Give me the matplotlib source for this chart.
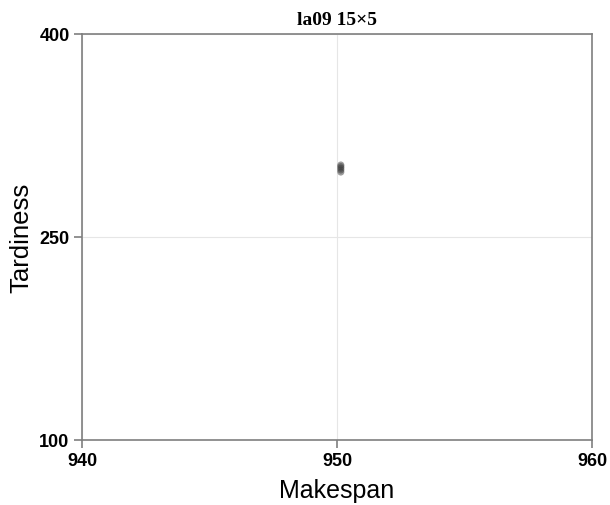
import matplotlib

matplotlib.use("Agg")
import matplotlib.pyplot as plt

# solutions found (makespan, tardiness)
makespan = [950.15, 950.15, 950.15, 950.15, 950.15]
tardiness = [298.0, 299.5, 300.8, 302.0, 303.2]

x_ticks = [940, 950, 960]
y_ticks = [100, 250, 400]

fig = plt.figure(figsize=(6.1, 5.06), dpi=100)
ax = fig.add_axes([82 / 610, 1 - 441 / 506, 510 / 610, 406 / 506])

ax.scatter(makespan, tardiness, s=26, color="#3c3c3c", alpha=0.5, edgecolors="none", zorder=3)

ax.set_xlim(940, 960)
ax.set_ylim(100, 400)
ax.set_xticks(x_ticks)
ax.set_yticks(y_ticks)
ax.grid(True, color="#e6e6e6", linewidth=0.8)
ax.set_axisbelow(True)

for spine in ax.spines.values():
    spine.set_color("#7f7f7f")
    spine.set_linewidth(1.2)
ax.tick_params(direction="out", length=6, width=1.2, color="#7f7f7f", labelsize=13, pad=3)
for lbl in ax.get_xticklabels() + ax.get_yticklabels():
    lbl.set_fontweight("bold")
    lbl.set_family("Liberation Sans")

ax.set_title("la09 15×5", fontsize=14, fontweight="bold", family="Liberation Serif", pad=7)
ax.set_xlabel("Makespan", fontsize=18, family="Liberation Sans", labelpad=6)
ax.set_ylabel("Tardiness", fontsize=18.5, family="Liberation Sans", labelpad=4)

fig.savefig("out.png", dpi=100)
